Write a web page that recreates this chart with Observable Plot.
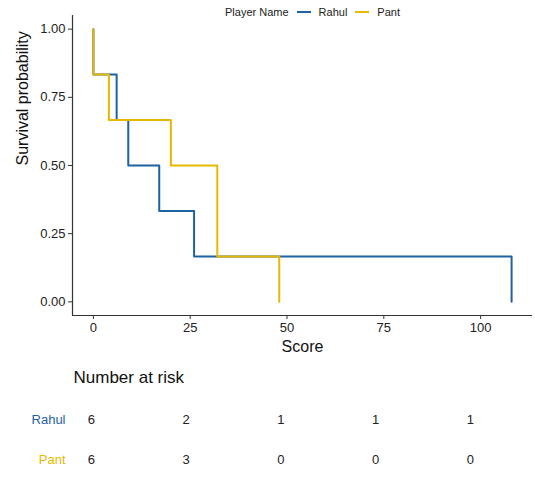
<!DOCTYPE html>
<html>
<head>
<meta charset="utf-8">
<script src="https://cdn.jsdelivr.net/npm/d3@7"></script>
<script src="https://cdn.jsdelivr.net/npm/@observablehq/plot@0.6"></script>
<style>
  body { margin: 0; background: #fff; font-family: "Liberation Sans", Arial, sans-serif; }
  #wrap { position: relative; width: 535px; height: 480px; }
  #legend { position: absolute; top: 6px; left: 225px; font-size: 11px; color: #222; display: flex; align-items: center; white-space: nowrap; }
  #legend .sw { display: inline-block; width: 14px; height: 2px; margin: 0 8px 0 8px; }
</style>
</head>
<body>
<div id="wrap">
  <div id="chart"></div>
  <div id="table"></div>
  <div id="legend"></div>
</div>
<script>
// ---- data ----
const series = ["Rahul", "Pant"];
const colors = ["#1F62A2", "#E7B800"];
// Kaplan-Meier step points (time, survival), step-after
const rahulTime = [0, 0, 6, 9, 17, 26, 108];
const rahulSurv = [1, 0.8333, 0.6667, 0.5, 0.3333, 0.1667, 0];
const pantTime = [0, 0, 4, 20, 32, 48];
const pantSurv = [1, 0.8333, 0.6667, 0.5, 0.1667, 0];
const yTicks = [0, 0.25, 0.5, 0.75, 1];
const xTicks = [0, 25, 50, 75, 100];
// number at risk
const riskTimes = [0, 25, 50, 75, 100];
const riskRahul = [6, 2, 1, 1, 1];
const riskPant = [6, 3, 0, 0, 0];

const font = "Liberation Sans, Arial, sans-serif";
const xDomain = [-5.4, 113.4];
const yDomain = [-0.05, 1.05];

const curves = [
  ...rahulTime.map((t, i) => ({series: "Rahul", time: t, surv: rahulSurv[i]})),
  ...pantTime.map((t, i) => ({series: "Pant", time: t, surv: pantSurv[i]}))
];

const chart = Plot.plot({
  width: 535,
  height: 362,
  marginLeft: 72,
  marginRight: 3,
  marginTop: 15,
  marginBottom: 47,
  style: {fontFamily: font, fontSize: "13px", color: "#222", background: "#fff"},
  x: {domain: xDomain},
  y: {domain: yDomain},
  color: {domain: series, range: colors},
  marks: [
    Plot.axisY({ticks: yTicks, tickFormat: d3.format(".2f"), tickSize: 4, tickPadding: 3, label: null, stroke: "#333"}),
    Plot.axisX({ticks: xTicks, tickSize: 4, tickPadding: 3, label: null, stroke: "#333"}),
    Plot.ruleX([xDomain[0]], {stroke: "#333", strokeWidth: 1.2}),
    Plot.ruleY([yDomain[0]], {stroke: "#333", strokeWidth: 1.2}),
    Plot.line(curves, {x: "time", y: "surv", z: "series", stroke: "series", curve: "step-after", strokeWidth: 2}),
    Plot.text(["Survival probability"], {text: d => d, frameAnchor: "left", rotate: -90, dx: -50, fontSize: 16, fill: "#111"}),
    Plot.text(["Score"], {text: d => d, frameAnchor: "bottom", lineAnchor: "middle", dy: 31, fontSize: 16, fill: "#111"})
  ]
});
document.getElementById("chart").appendChild(chart);

// ---- number at risk table ----
const riskRows = [
  ...riskTimes.map((t, i) => ({series: "Rahul", time: t, n: riskRahul[i]})),
  ...riskTimes.map((t, i) => ({series: "Pant", time: t, n: riskPant[i]}))
];
const table = Plot.plot({
  width: 535,
  height: 118,
  marginLeft: 72,
  marginRight: 3,
  marginTop: 0,
  marginBottom: 0,
  style: {fontFamily: font, fontSize: "13px", color: "#222", background: "#fff"},
  x: {domain: [-5.0, 116.4], axis: null},
  y: {type: "point", domain: series, range: [57, 97], padding: 0, axis: null},
  color: {domain: series, range: colors},
  marks: [
    Plot.text(["Number at risk"], {text: d => d, frameAnchor: "top-left", lineAnchor: "middle", textAnchor: "start", dx: 1, dy: 15, fontSize: 17, fill: "#111"}),
    Plot.text(series, {y: d => d, text: d => d, frameAnchor: "left", textAnchor: "end", dx: -7, fill: d => d, fontSize: 13}),
    Plot.text(riskRows, {x: "time", y: "series", text: "n", fill: "#222", fontSize: 13})
  ]
});
document.getElementById("table").appendChild(table);

// ---- legend ----
const legend = document.getElementById("legend");
const title = document.createElement("span");
title.textContent = "Player Name";
legend.appendChild(title);
series.forEach((s, i) => {
  const sw = document.createElement("span");
  sw.className = "sw";
  sw.style.background = colors[i];
  legend.appendChild(sw);
  const lab = document.createElement("span");
  lab.textContent = s;
  legend.appendChild(lab);
});
</script>
</body>
</html>
